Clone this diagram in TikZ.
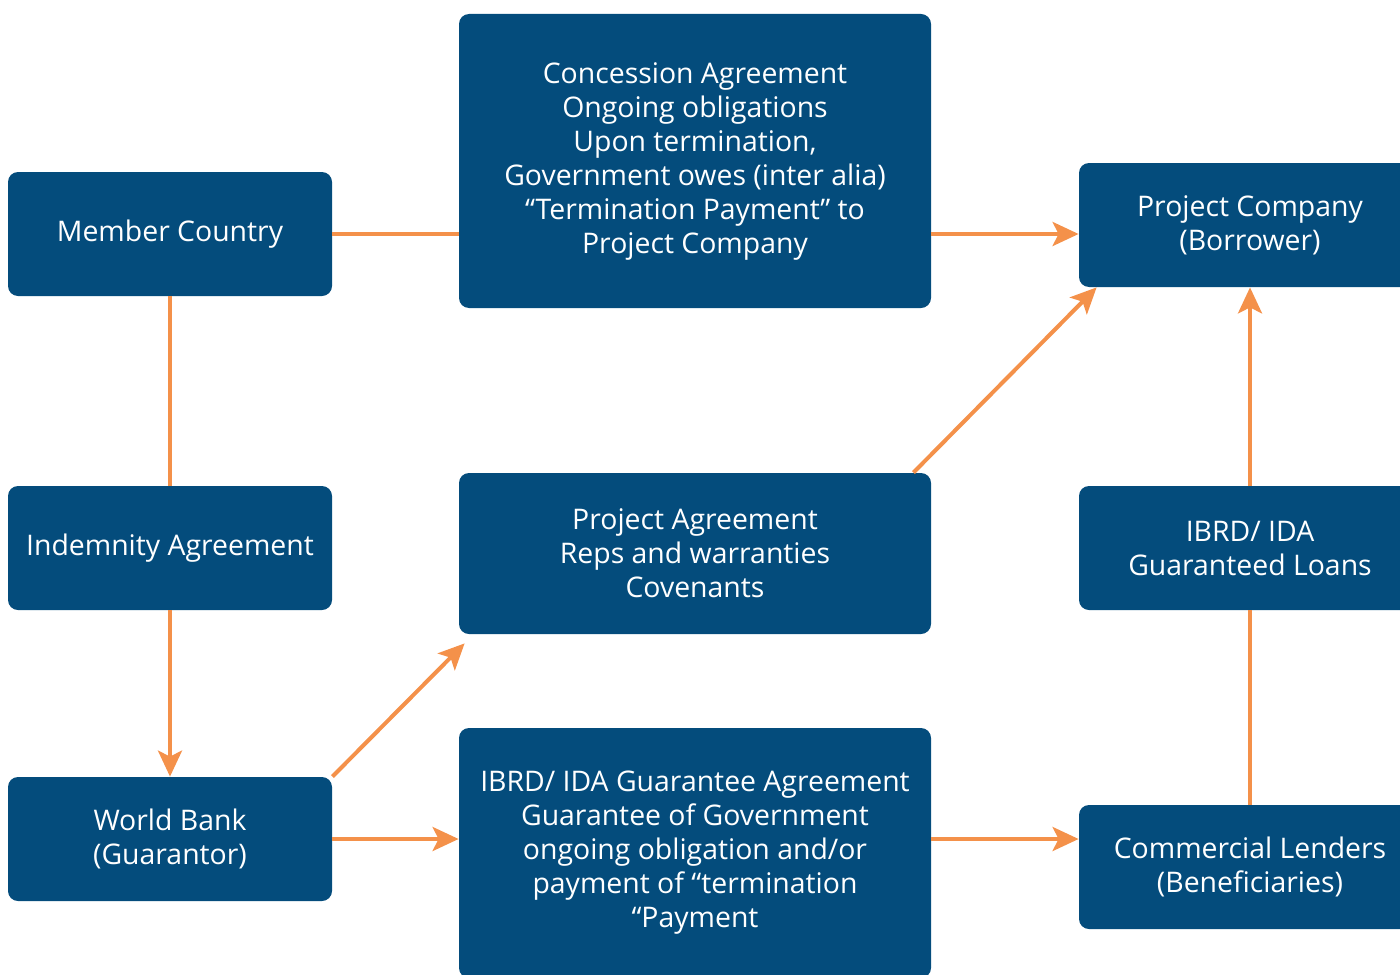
\documentclass[tikz,border=0pt]{standalone}
\usepackage{fontspec}
\setmainfont{Open Sans}
\usetikzlibrary{arrows.meta}

\definecolor{wbblue}{HTML}{044C7C}
\definecolor{wborange}{HTML}{F4914A}

\tikzset{
  box/.style={fill=wbblue, rounded corners=5pt, text=white, align=center, inner sep=0pt,
    font=\fontsize{14.2}{17}\selectfont},
  sidebox/.style={box, minimum width=162pt, minimum height=62pt},
  midbox/.style={box, minimum width=236pt},
  rightbox/.style={box, minimum width=171pt, minimum height=62pt},
  link/.style={draw=wborange, line width=2pt},
  arr/.style={link, -{Stealth[length=13pt,width=12pt,inset=3pt]}},
}

\begin{document}
\begin{tikzpicture}[x=0.5pt,y=-0.5pt]

\clip (0,0) rectangle (1400,974) ;

\node [sidebox] (mc) at (170,234) {Member Country} ;
\node [sidebox] (ia) at (170,548) {Indemnity Agreement} ;
\node [sidebox] (wb) at (170,839) {World Bank\\(Guarantor)} ;

\node [midbox, minimum height=147pt] (ca) at (695,161) {Concession Agreement\\Ongoing obligations\\Upon termination,\\Government owes (inter alia)\\“Termination Payment” to\\Project Company} ;
\node [midbox, minimum height=80.5pt] (pa) at (695,553.5) {Project Agreement\\Reps and warranties\\Covenants} ;
\node [midbox, minimum height=125pt] (ga) at (695,853) {IBRD/ IDA Guarantee Agreement\\Guarantee of Government\\ongoing obligation and/or\\payment of “termination\\“Payment} ;

\node [rightbox] (pc) at (1250,225) {Project Company\\(Borrower)} ;
\node [rightbox] (gl) at (1250,548) {IBRD/ IDA\\Guaranteed Loans} ;
\node [rightbox] (cl) at (1250,867) {Commercial Lenders\\(Beneficiaries)} ;

\draw [link] (mc.east) -- (ca.west |- mc.east) ;
\draw [arr] (ca.east |- mc.east) -- (pc.west |- mc.east) ;
\draw [link] (mc.south) -- (ia.north) ;
\draw [arr] (ia.south) -- (wb.north) ;
\draw [arr] (wb.north east) -- ([shift={(6,9)}]pa.south west) ;
\draw [arr] (wb.east) -- (ga.west |- wb.east) ;
\draw [arr] (ga.east |- wb.east) -- (cl.west |- wb.east) ;
\draw [link] (cl.north) -- (gl.south) ;
\draw [arr] (gl.north) -- (pc.south) ;
\draw [arr] ([xshift=-9pt]pa.north east) -- ([xshift=9pt]pc.south west) ;
\end{tikzpicture}
\end{document}
